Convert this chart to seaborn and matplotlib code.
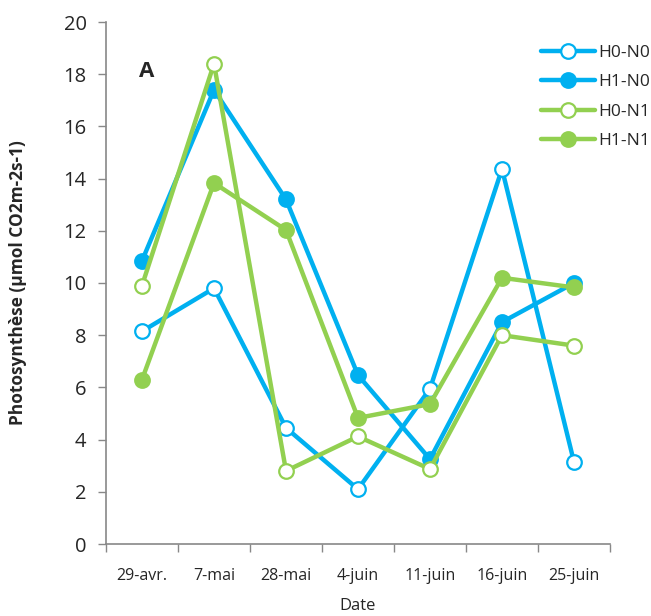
import matplotlib
matplotlib.use("Agg")
import matplotlib.pyplot as plt
import seaborn as sns
import pandas as pd

dates = ["29-avr.", "7-mai", "28-mai", "4-juin", "11-juin", "16-juin", "25-juin"]
h0_n0 = [8.15, 9.8, 4.45, 2.1, 5.95, 14.37, 3.14]
h1_n0 = [10.85, 17.4, 13.2, 6.47, 3.25, 8.5, 10.0]
h0_n1 = [9.9, 18.4, 2.8, 4.12, 2.87, 8.0, 7.6]
h1_n1 = [6.3, 13.83, 12.03, 4.83, 5.36, 10.2, 9.83]
y_ticks = list(range(0, 21, 2))

blue = "#00B0F0"
green = "#92D050"

sns.set_theme(style="white")
plt.rcParams["font.family"] = ["Open Sans", "DejaVu Sans"]

series = [
    ("H0-N0", h0_n0, blue, False),
    ("H1-N0", h1_n0, blue, True),
    ("H0-N1", h0_n1, green, False),
    ("H1-N1", h1_n1, green, True),
]

fig = plt.figure(figsize=(6.51, 6.16), dpi=100)
ax = fig.add_axes([106 / 651, 72 / 616, 504 / 651, 522 / 616])

for name, vals, col, filled in series:
    df = pd.DataFrame({"pos": range(len(dates)), "val": vals})
    sns.lineplot(data=df, x="pos", y="val", ax=ax, color=col, lw=3.2,
                 marker="o", markersize=10.5,
                 markerfacecolor=col if filled else "white",
                 markeredgecolor=col, markeredgewidth=1.6,
                 label=name)

ax.set_xlim(-0.5, len(dates) - 0.5)
ax.set_ylim(0, 20)
ax.set_yticks(y_ticks)
ax.set_yticklabels([str(t) for t in y_ticks], fontsize=14.5)
ax.set_xticks(range(len(dates)))
ax.set_xticklabels(dates, fontsize=11.5)
ax.set_xticks([i - 0.5 for i in range(len(dates) + 1)], minor=True)
ax.tick_params(axis="x", which="major", length=0, pad=17)
ax.tick_params(axis="x", which="minor", length=6, color="#888888", width=1, direction="out", bottom=True)
ax.tick_params(axis="y", length=6, color="#888888", width=1, direction="out", left=True, pad=8)

for s in ["top", "right"]:
    ax.spines[s].set_visible(False)
for s in ["left", "bottom"]:
    ax.spines[s].set_color("#888888")
    ax.spines[s].set_linewidth(1.2)

ax.set_xlabel("Date", fontsize=12, labelpad=10)
ax.set_ylabel("Photosynthèse (µmol CO2m-2s-1)", fontsize=12.5, fontweight="bold", labelpad=26)
ax.text(0.065, 0.925, "A", transform=ax.transAxes, fontsize=16, fontweight="bold", va="top", ha="left")

ax.get_legend().remove()
handles, labels = ax.get_legend_handles_labels()
fig.legend(handles, labels, loc="upper left", bbox_to_anchor=(534 / 651, 1 - 38 / 616),
           frameon=False, fontsize=12.5, handlelength=3.1, labelspacing=0.76,
           handletextpad=0.2, borderaxespad=0)

fig.savefig("out.png", dpi=100)
